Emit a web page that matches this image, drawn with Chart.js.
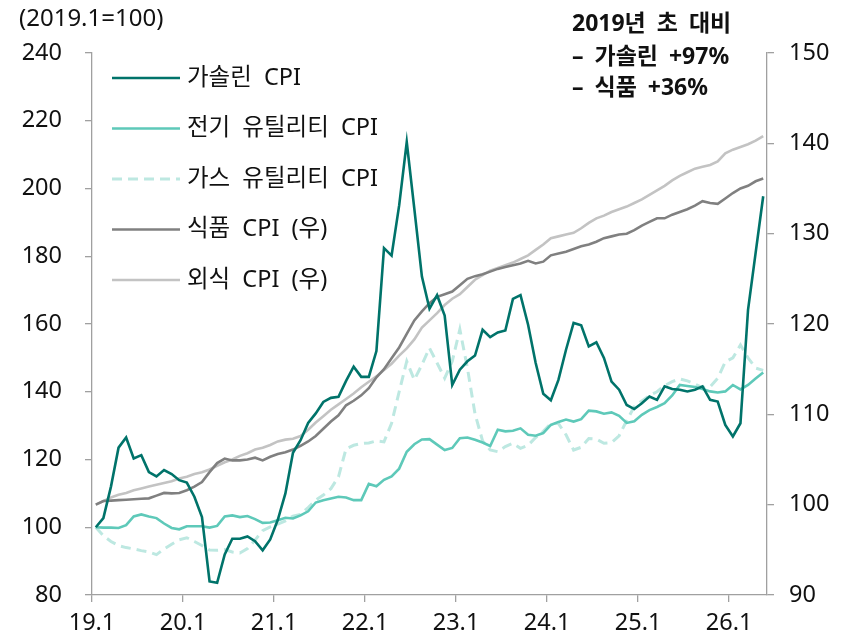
<!DOCTYPE html>
<html>
<head>
<meta charset="utf-8">
<script src="https://cdn.jsdelivr.net/npm/chart.js@4/dist/chart.umd.min.js"></script>
<style>
html,body{margin:0;padding:0;background:#fff;}
#wrap{position:relative;width:848px;height:634px;}
</style>
</head>
<body>
<div id="wrap"><canvas id="c" width="848" height="634"></canvas></div>
<script>
// Monthly data, 2019.1 .. 2026.5 (89 months)
const xTickLabels = ['19.1','20.1','21.1','22.1','23.1','24.1','25.1','26.1'];
const seriesNames = ['가솔린 CPI','전기 유틸리티 CPI','가스 유틸리티 CPI','식품 CPI (우)','외식 CPI (우)'];

const gasoline = [100,102.7,112,123.5,126.5,120.3,121.3,116.3,115,116.9,
115.7,113.9,113.2,109,103,84,83.6,92,96.6,96.6,
97.3,95.9,93.2,96.4,102.2,110,122,125.7,130.8,133.6,
137,138.2,138.5,143.2,147.4,144.4,144.4,152,182.4,180.2,
195,213.7,194,174,164.5,168.5,162.5,142,146.5,149,
150.7,158.3,156.1,157.5,158.1,167.4,168.5,159.8,148.5,139.4,
137.5,143.5,152.4,160.3,159.6,153.4,154.6,150,143,140.6,
136.1,134.9,136.6,138.6,137.6,141.6,140.8,140.6,140.1,140.6,
141.6,137.6,137.1,130.2,126.8,130.7,164.2,181,197.7];

const electricity = [100,99.9,99.9,99.8,100.6,103.2,103.8,103.2,102.7,101.1,
99.8,99.4,100.3,100.3,100.3,99.9,100.4,103.2,103.5,103,
103.3,102.4,101.3,101.4,102.1,102.8,102.6,103.5,104.7,107.3,
108,108.5,109,108.8,108,108,112.8,112.1,114,115,
117.3,122.3,124.5,125.9,126,124.4,122.8,123.4,126.3,126.5,
125.8,125,124,128.8,128.3,128.5,129.2,127.3,127,127.8,
130.2,131.1,131.8,131.2,131.9,134.4,134.2,133.5,133.9,132.9,
130.8,131.3,133.2,134.6,135.5,136.6,138.9,142,141.7,141.4,
140.8,140.1,139.8,140.1,142,140.7,142,143.9,145.7];

const gasUtility = [100,97.5,95.8,94.6,94,93.6,93.1,92.7,91.9,93.6,
95,96.3,96.9,95.8,94.6,93.3,93.2,93.4,92.7,92.4,
93.7,96.2,99,100.1,100.9,101.9,103.3,103.8,105.8,108,
109.5,111.4,114.9,123.2,124.2,124.7,124.9,125.5,125.2,130.7,
140,149,143.5,148,152.9,148.5,144,149,158.4,147,
133.5,125.5,122.8,122.3,123.8,124.8,123.3,124.2,126.5,128.3,
130.6,130.6,127.3,122.8,123.6,126.2,126,124.8,125,127,
131.5,135.6,137.3,138.9,140,141.8,143,143.8,143.2,142.3,
141.2,141.5,144,148.8,150,153.8,150,147,146.3];

const food = [100,100.4,100.45,100.5,100.55,100.6,100.65,100.7,101,101.3,
101.25,101.3,101.6,102,102.5,103.6,104.6,105.1,104.9,104.9,
105,105.2,104.9,105.3,105.6,105.8,106.1,106.5,107,107.6,
108.4,109.2,109.9,111,111.5,112.1,112.9,114.1,115,116.2,
117.4,118.9,120.4,121.4,122.3,123,123.3,123.6,124.3,125,
125.3,125.5,125.8,126.1,126.3,126.5,126.7,127,126.7,126.9,
127.6,127.8,128,128.3,128.6,128.8,129.1,129.5,129.7,129.9,
130,130.4,130.9,131.3,131.7,131.7,132.1,132.4,132.7,133.1,
133.6,133.4,133.3,133.9,134.5,135,135.3,135.8,136.1];

const restaurant = [100,100.4,100.8,101.1,101.3,101.6,101.8,102,102.2,102.4,
102.6,102.9,103.1,103.4,103.6,103.9,104.3,104.7,105,105.4,
105.7,106.1,106.3,106.6,107,107.2,107.3,107.6,108.3,109.1,
109.8,110.5,111.1,111.7,112.3,113,113.6,114.2,114.9,115.6,
116.5,117.3,118.3,119.6,120.4,121.2,122.1,122.8,123.3,124.1,
124.9,125.4,125.9,126.2,126.5,126.8,127.2,127.6,128.2,128.8,
129.5,129.7,129.9,130.1,130.6,131.2,131.7,132,132.4,132.7,
133,133.4,133.8,134.3,134.8,135.3,135.9,136.4,136.8,137.2,
137.4,137.6,138,138.9,139.3,139.6,139.9,140.3,140.8];

const titleText = '(2019.1=100)';
const noteLines = ['2019년 초 대비', '– 가솔린 +97%', '– 식품 +36%'];

const FONT = "'Noto Sans', 'Noto Sans CJK KR', sans-serif";
const toXY = arr => arr.map((v, i) => ({x: i, y: v}));
const tickPos = xTickLabels.map((_, k) => k * 12 - 0.5);

const colors = ['#00736A', '#5EC9B9', '#BDE8E1', '#808080', '#C3C3C3'];

const overlay = {
  id: 'overlay',
  afterDraw(chart) {
    const ctx = chart.ctx;
    ctx.save();
    // title
    ctx.fillStyle = '#111';
    ctx.font = "24px " + FONT;
    ctx.textBaseline = 'middle';
    ctx.textAlign = 'left';
    ctx.fillText(titleText, 19, 19);
    // note
    ctx.font = "bold 23px " + FONT;
    if ('wordSpacing' in ctx) ctx.wordSpacing = '5px';
    const ny = [24, 57, 88];
    noteLines.forEach((t, i) => ctx.fillText(t, 572, ny[i]));
    // legend
    const rows = [78, 128.5, 179, 229.5, 280];
    chart.data.datasets.forEach((ds, i) => {
      const y = rows[i];
      ctx.beginPath();
      ctx.strokeStyle = ds.borderColor;
      ctx.lineWidth = ds.borderWidth;
      ctx.setLineDash(ds.borderDash || []);
      ctx.moveTo(112, y);
      ctx.lineTo(180, y);
      ctx.stroke();
      ctx.setLineDash([]);
      ctx.fillStyle = '#111';
      ctx.font = "23.5px " + FONT;
      if ('wordSpacing' in ctx) ctx.wordSpacing = '6px';
      ctx.fillText(ds.label, 187, y);
    });
    ctx.restore();
  }
};

new Chart(document.getElementById('c'), {
  type: 'line',
  data: {
    datasets: [
      {label: seriesNames[0], data: toXY(gasoline), borderColor: colors[0], borderWidth: 2.6, yAxisID: 'y'},
      {label: seriesNames[1], data: toXY(electricity), borderColor: colors[1], borderWidth: 2.6, yAxisID: 'y'},
      {label: seriesNames[2], data: toXY(gasUtility), borderColor: colors[2], borderWidth: 3, borderDash: [10, 6], yAxisID: 'y'},
      {label: seriesNames[3], data: toXY(food), borderColor: colors[3], borderWidth: 2.6, yAxisID: 'y2'},
      {label: seriesNames[4], data: toXY(restaurant), borderColor: colors[4], borderWidth: 2.6, yAxisID: 'y2'}
    ]
  },
  options: {
    responsive: false,
    animation: false,
    devicePixelRatio: 1,
    layout: {padding: {top: 53, left: 0, right: 0, bottom: 0}},
    elements: {point: {radius: 0}, line: {tension: 0, fill: false}},
    plugins: {legend: {display: false}, tooltip: {enabled: false}},
    scales: {
      x: {
        type: 'linear', min: -0.5, max: 88.5,
        afterBuildTicks: s => { s.ticks = tickPos.map(v => ({value: v})); },
        afterFit: s => { s.height = 39; },
        grid: {drawOnChartArea: false, drawTicks: true, tickLength: 7, color: '#A0A0A0', lineWidth: 1.3},
        border: {color: '#A0A0A0', width: 1.3},
        ticks: {autoSkip: false, maxRotation: 0, padding: 7, color: '#111',
          font: {family: FONT, size: 23.5},
          callback: (v, i) => xTickLabels[i]}
      },
      y: {
        position: 'left', min: 80, max: 240,
        afterFit: s => { s.width = 92; },
        grid: {drawOnChartArea: false, drawTicks: true, tickLength: 7, color: '#A0A0A0', lineWidth: 1.3},
        border: {color: '#A0A0A0', width: 1.3},
        ticks: {stepSize: 20, padding: 23, color: '#111', font: {family: FONT, size: 23.5}}
      },
      y2: {
        position: 'right', min: 90, max: 150,
        afterFit: s => { s.width = 81; },
        grid: {drawOnChartArea: false, drawTicks: true, tickLength: 7, color: '#A0A0A0', lineWidth: 1.3},
        border: {color: '#A0A0A0', width: 1.3},
        ticks: {stepSize: 10, padding: 15, color: '#111', font: {family: FONT, size: 23.5}}
      }
    }
  },
  plugins: [overlay]
});
</script>
</body>
</html>
